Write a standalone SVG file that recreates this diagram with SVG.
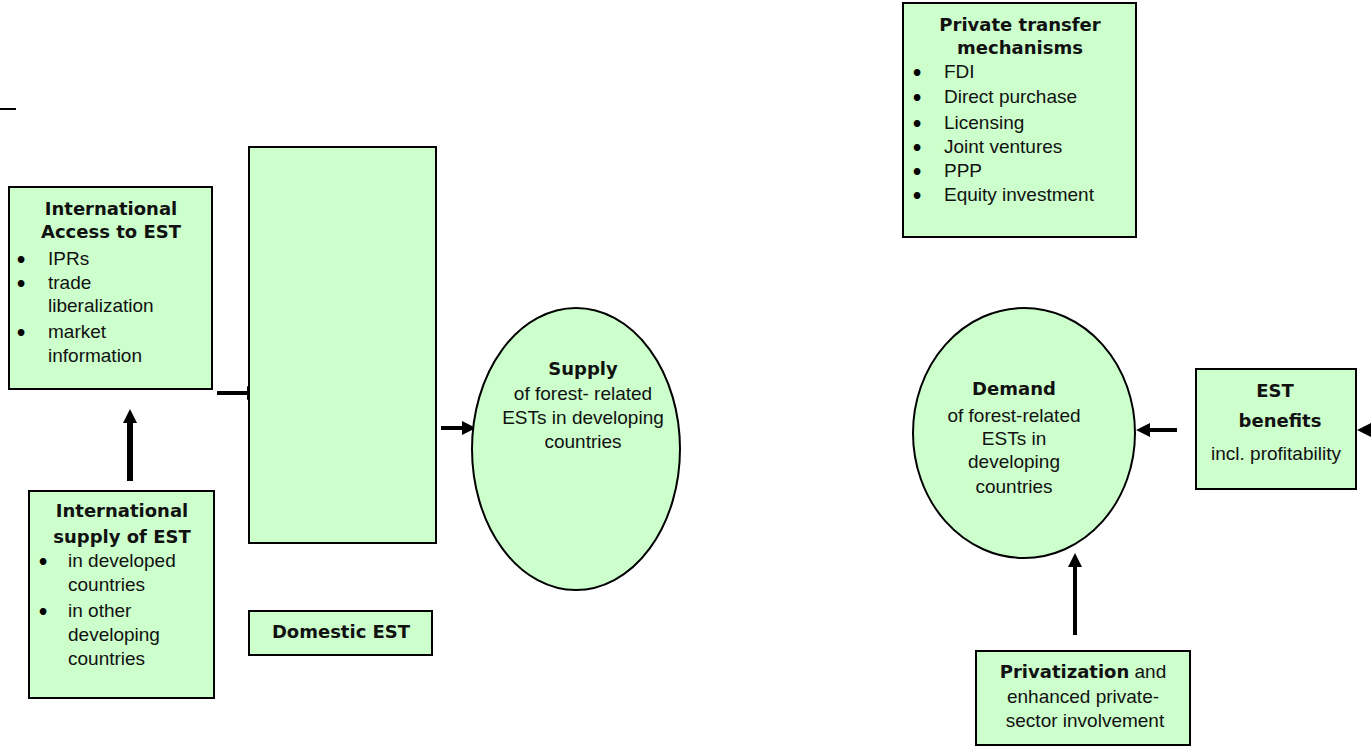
<svg xmlns="http://www.w3.org/2000/svg" width="1371" height="751" viewBox="0 0 1371 751">
<style>
.box{fill:#CCFFCC;stroke:#000;stroke-width:2}
.t{font-family:"Liberation Sans",Arial,sans-serif;font-size:19px;fill:#111}
.bl{font-family:"DejaVu Sans",sans-serif;font-size:19px;font-weight:bold;fill:#000}
.b{font-family:"DejaVu Sans",Verdana,sans-serif;font-size:18px;font-weight:bold;fill:#111}
.c{text-anchor:middle}
.con{stroke:#000;fill:none}
</style>
<defs>
<marker id="ah" markerUnits="userSpaceOnUse" markerWidth="15" markerHeight="15" refX="0" refY="7" orient="auto" overflow="visible">
<path d="M0,0 L14,7 L0,14 z" fill="#000"/>
</marker>
</defs>
<rect width="1371" height="751" fill="#fff"/>
<line x1="0" y1="109" x2="16" y2="109" stroke="#000" stroke-width="2"/>

<g id="connectors">
<line class="con" x1="130" y1="481" x2="130" y2="423" stroke-width="6" marker-end="url(#ah)"/>
<line class="con" x1="217" y1="393" x2="247" y2="393" stroke-width="4" marker-end="url(#ah)"/>
<line class="con" x1="441" y1="428" x2="462" y2="428" stroke-width="4" marker-end="url(#ah)"/>
<line class="con" x1="1177" y1="430" x2="1150" y2="430" stroke-width="4" marker-end="url(#ah)"/>
<line class="con" x1="1075" y1="635" x2="1075" y2="567" stroke-width="4" marker-end="url(#ah)"/>
<line class="con" x1="1390" y1="430" x2="1371" y2="430" stroke-width="4" marker-end="url(#ah)"/>
</g>

<g id="big-box">
<rect class="box" x="249" y="147" width="187" height="396"/>
</g>

<g id="intl-access">
<rect class="box" x="9" y="187" width="203" height="202"/>
<text class="b c" x="111" y="215">International</text>
<text class="b c" x="111" y="238">Access to EST</text>
<text class="bl" x="15" y="267">•</text><text class="t" x="48" y="265">IPRs</text>
<text class="bl" x="15" y="291">•</text><text class="t" x="48" y="289">trade</text>
<text class="t" x="48" y="312">liberalization</text>
<text class="bl" x="15" y="340">•</text><text class="t" x="48" y="338">market</text>
<text class="t" x="48" y="362">information</text>
</g>

<g id="intl-supply">
<rect class="box" x="29" y="491" width="185" height="207"/>
<text class="b c" x="122" y="517">International</text>
<text class="b c" x="122" y="543">supply of EST</text>
<text class="bl" x="37" y="569">•</text><text class="t" x="68" y="567">in developed</text>
<text class="t" x="68" y="591">countries</text>
<text class="bl" x="37" y="619">•</text><text class="t" x="68" y="617">in other</text>
<text class="t" x="68" y="641">developing</text>
<text class="t" x="68" y="665">countries</text>
</g>

<g id="domestic">
<rect class="box" x="249" y="611" width="183" height="44"/>
<text class="b c" x="341" y="638">Domestic EST</text>
</g>

<g id="supply">
<ellipse class="box" cx="576" cy="449" rx="104" ry="141"/>
<text class="b c" x="583" y="375">Supply</text>
<text class="t c" x="583" y="400">of forest- related</text>
<text class="t c" x="583" y="424">ESTs in developing</text>
<text class="t c" x="583" y="448">countries</text>
</g>

<g id="private-transfer">
<rect class="box" x="903" y="3" width="233" height="234"/>
<text class="b c" x="1020" y="31">Private transfer</text>
<text class="b c" x="1020" y="54">mechanisms</text>
<text class="bl" x="911" y="80">•</text><text class="t" x="944" y="78">FDI</text>
<text class="bl" x="911" y="105">•</text><text class="t" x="944" y="103">Direct purchase</text>
<text class="bl" x="911" y="131">•</text><text class="t" x="944" y="129">Licensing</text>
<text class="bl" x="911" y="155">•</text><text class="t" x="944" y="153">Joint ventures</text>
<text class="bl" x="911" y="179">•</text><text class="t" x="944" y="177">PPP</text>
<text class="bl" x="911" y="203">•</text><text class="t" x="944" y="201">Equity investment</text>
</g>

<g id="demand">
<ellipse class="box" cx="1024" cy="433" rx="111" ry="125"/>
<text class="b c" x="1014" y="395">Demand</text>
<text class="t c" x="1014" y="422">of forest-related</text>
<text class="t c" x="1014" y="445">ESTs  in</text>
<text class="t c" x="1014" y="468">developing</text>
<text class="t c" x="1014" y="493">countries</text>
</g>

<g id="est-benefits">
<rect class="box" x="1196" y="369" width="160" height="120"/>
<text class="b c" x="1275" y="397">EST</text>
<text class="b c" x="1280" y="427">benefits</text>
<text class="t c" x="1276" y="460">incl. profitability</text>
</g>

<g id="privatization">
<rect class="box" x="976" y="651" width="214" height="94"/>
<text class="t c" x="1083" y="678"><tspan class="b">Privatization</tspan> and</text>
<text class="t c" x="1083" y="703">enhanced private-</text>
<text class="t c" x="1085" y="727">sector involvement</text>
</g>
</svg>
